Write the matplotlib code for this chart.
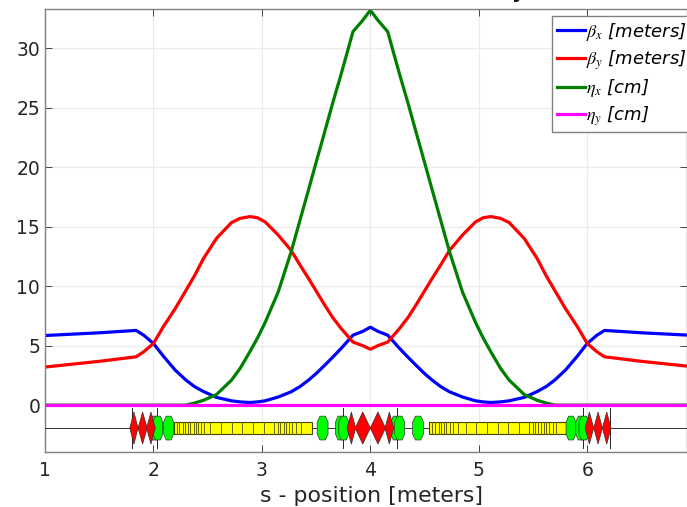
import numpy as np
import matplotlib.pyplot as plt
from matplotlib.patches import Polygon, Rectangle

plt.rcParams['mathtext.fontset'] = 'stix'

# lattice functions
s = [1.0, 1.5, 1.84, 1.91, 2.0, 2.09, 2.2, 2.3, 2.38, 2.46, 2.58, 2.72, 2.8, 2.89, 2.96, 3.03, 3.15, 3.27, 3.35, 3.43, 3.5,
     3.58, 3.65, 3.73, 3.84, 3.93, 4.0, 4.07, 4.16, 4.27, 4.35, 4.42, 4.5, 4.57, 4.65, 4.73, 4.85, 4.97, 5.04, 5.11, 5.2, 5.28,
     5.42, 5.54, 5.62, 5.7, 5.8, 5.91, 6.0, 6.09, 6.16, 6.5, 7.0]
beta_x = [5.85, 6.08, 6.28, 5.88, 5.18, 4.13, 2.95, 2.1, 1.55, 1.15, 0.65, 0.36, 0.27, 0.22, 0.27, 0.36, 0.68, 1.12, 1.55, 2.1, 2.65,
          3.36, 4.0, 4.76, 5.88, 6.2, 6.55, 6.2, 5.88, 4.76, 4.0, 3.36, 2.65, 2.1, 1.55, 1.12, 0.68, 0.36, 0.27, 0.22, 0.27, 0.36,
          0.65, 1.15, 1.55, 2.1, 2.95, 4.13, 5.18, 5.88, 6.28, 6.08, 5.85]
beta_y = [3.2, 3.68, 4.06, 4.48, 5.18, 6.58, 8.1, 9.65, 10.9, 12.3, 14.0, 15.35, 15.7, 15.85, 15.75, 15.4, 14.3, 13.0, 11.8, 10.65, 9.6,
          8.4, 7.4, 6.45, 5.3, 5.0, 4.7, 5.0, 5.3, 6.45, 7.4, 8.4, 9.6, 10.65, 11.8, 13.0, 14.3, 15.4, 15.75, 15.85, 15.7, 15.35,
          14.0, 12.3, 10.9, 9.65, 8.1, 6.58, 5.18, 4.48, 4.06, 3.68, 3.2]
eta_x = [0, 0, 0, 0, 0, 0, 0, 0, 0.18, 0.4, 0.88, 2.1, 3.1, 4.5, 5.65, 6.95, 9.5, 12.9, 15.5, 18.1, 20.4,
         23.0, 25.3, 27.8, 31.4, 32.35, 33.2, 32.35, 31.4, 27.8, 25.3, 23.0, 20.4, 18.1, 15.5, 12.9, 9.5, 6.95, 5.65, 4.5, 3.1, 2.1,
         0.88, 0.4, 0.18, 0, 0, 0, 0, 0, 0, 0, 0]
eta_y = [0.0] * 53

# elements along the beamline
quad_s = [1.82, 1.9, 1.977, 3.825, 3.93, 4.07, 4.175, 6.02, 6.1, 6.18]
quad_w = [0.038, 0.042, 0.04, 0.04, 0.07, 0.07, 0.04, 0.04, 0.04, 0.04]
sext_s = [2.01, 2.04, 2.14, 3.56, 3.725, 3.755, 4.235, 4.27, 4.44, 5.85, 5.94, 5.97]
sext_w = [0.046, 0.046, 0.046, 0.05, 0.046, 0.046, 0.046, 0.046, 0.05, 0.045, 0.046, 0.046]
bend_edges = [2.19, 2.22, 2.24, 2.27, 2.29, 2.32, 2.34, 2.37, 2.39, 2.41, 2.44, 2.47, 2.52, 2.62, 2.72, 2.82, 2.92,
              3.02, 3.11, 3.15, 3.17, 3.2, 3.22, 3.25, 3.28, 3.31, 3.36, 3.46]
bend_edges2 = [4.54, 4.57, 4.6, 4.63, 4.65, 4.68, 4.7, 4.73, 4.76, 4.81, 4.88, 4.97, 5.08, 5.18, 5.27, 5.37, 5.46,
               5.5, 5.52, 5.55, 5.57, 5.6, 5.62, 5.65, 5.68, 5.71, 5.8]
marker_s = [1.8, 2.03, 3.75, 4.25, 5.96, 6.21]

fig = plt.figure(figsize=(6.87, 5.07), dpi=100)
ax = fig.add_axes([45 / 687, 1 - 451.5 / 507, 642 / 687, 442.5 / 507])

ax.plot(s, beta_x, color='#0000ff', lw=2.3, label=r'$\beta_x$ [meters]')
ax.plot(s, beta_y, color='#ff0000', lw=2.3, label=r'$\beta_y$ [meters]')
ax.plot(s, eta_x, color='#008000', lw=2.3, label=r'$\eta_x$ [cm]')
ax.plot(s, eta_y, color='#ff00ff', lw=2.3, label=r'$\eta_y$ [cm]')

# beamline
y0 = -1.93
ax.plot([1, 6.92], [y0, y0], color='#333333', lw=0.7, zorder=3)
for x in marker_s:
    ax.plot([x, x], [y0 - 1.7, y0 + 1.7], color='#222222', lw=0.7, zorder=3)
for edges in (bend_edges, bend_edges2):
    ax.add_patch(Rectangle((edges[0], y0 - 0.5), edges[-1] - edges[0], 1.0, fc='#ffff00', ec='#444400', lw=0.8, zorder=4))
    for x in edges[1:-1]:
        ax.plot([x, x], [y0 - 0.5, y0 + 0.5], color='#666600', lw=0.7, zorder=4)
for x, w in zip(sext_s, sext_w):
    pts = [(x - w, y0 - 0.5), (x - w, y0 + 0.5), (x - w / 2, y0 + 1.0), (x + w / 2, y0 + 1.0),
           (x + w, y0 + 0.5), (x + w, y0 - 0.5), (x + w / 2, y0 - 1.0), (x - w / 2, y0 - 1.0)]
    ax.add_patch(Polygon(pts, fc='#00ff00', ec='#333333', lw=0.5, zorder=5))
for x, w in zip(quad_s, quad_w):
    ax.add_patch(Polygon([(x - w, y0), (x, y0 + 1.35), (x + w, y0), (x, y0 - 1.35)], fc='#ff0000', ec='#333333', lw=0.5, zorder=6))

ax.set_xlim(1, 6.92)
ax.set_ylim(-3.9, 33.3)
ax.set_xticks([1, 2, 3, 4, 5, 6])
ax.set_yticks([0, 5, 10, 15, 20, 25, 30])
ax.tick_params(direction='in', top=True, right=True, labelsize=13.5, color='#444444', labelcolor='#262626',
               length=5, width=0.7)
ax.tick_params(axis='x', pad=7)
ax.grid(True, color='#ebebeb', lw=0.9)
ax.set_axisbelow(True)
for sp in ax.spines.values():
    sp.set_color('#808080')
    sp.set_linewidth(1.0)
ax.set_xlabel('s - position [meters]', fontsize=15.8, color='#262626', labelpad=4, x=0.508)

leg = ax.legend(loc='upper left', bbox_to_anchor=(507 / 642, 1 - 7 / 442.5), fancybox=False, framealpha=1,
                edgecolor='#808080', borderaxespad=0, handlelength=1.55, handletextpad=0.1, labelspacing=0.3,
                borderpad=0.25, prop={'style': 'italic', 'size': 13})
leg.get_frame().set_linewidth(1.0)

# tail of the clipped title
fig.text(518 / 687, 1 + 2 / 507, 'y', fontsize=14, color='#111111', ha='center', va='baseline', fontweight='bold')

fig.savefig('out.png', dpi=100)
